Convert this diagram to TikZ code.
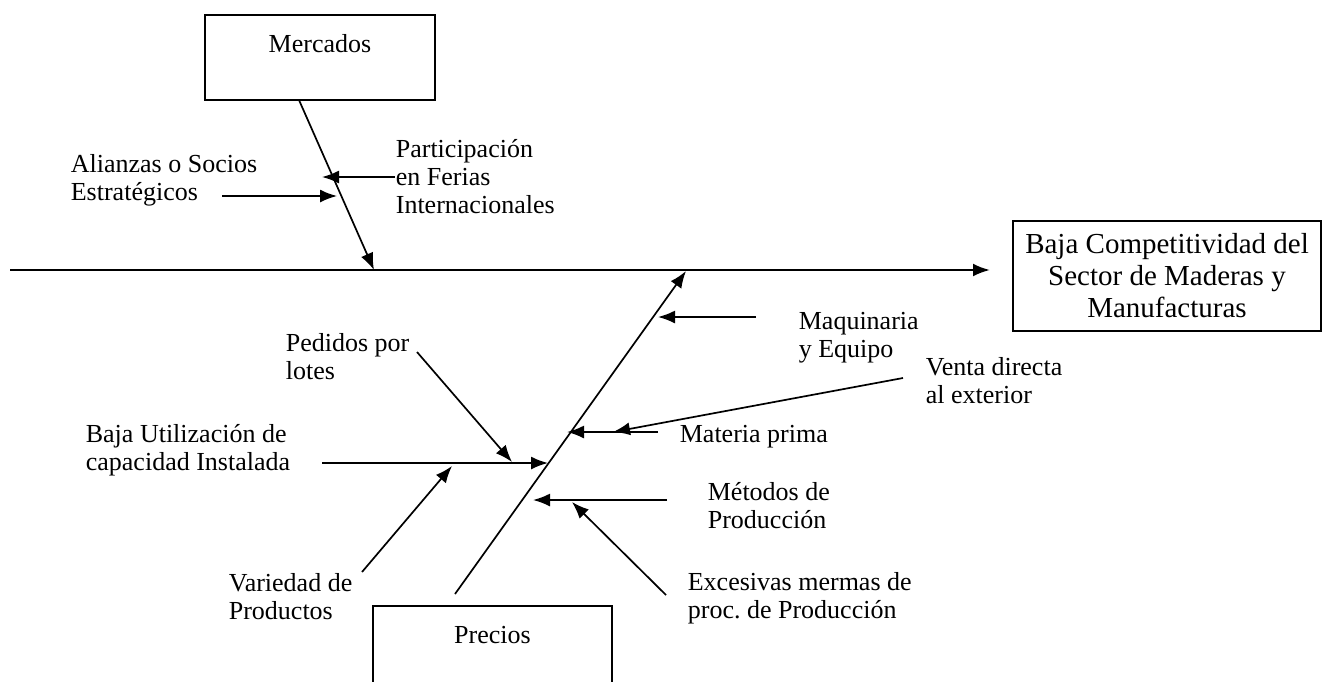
\documentclass[tikz,border=0pt]{standalone}
\usepackage{fontspec}
\setmainfont{Liberation Serif}
\usetikzlibrary{arrows.meta}
\frenchspacing

\begin{document}
\begin{tikzpicture}[x=0.5pt, y=-0.5pt, line width=0.85pt, >={Latex[length=8.5pt,width=6.5pt]}]
\tikzstyle{every node} = [font=\fontsize{13}{14}\selectfont, inner sep=0pt]
\tikzstyle{caja} = [draw, align=center, line width=0.9pt]
\tikzstyle{causa} = [anchor=west, align=left]
\useasboundingbox (0,0) rectangle (1327,681);
\clip (0,0) rectangle (1327,681);
% cajas
\node[caja, minimum width=115pt, minimum height=42.5pt] (merc) at (320,57.5) {Mercados\\~};
\node[caja, minimum width=119.5pt, minimum height=42.5pt] (prec) at (492.5,648.5) {Precios\\~};
\node[caja, minimum width=154pt, minimum height=55pt, font=\fontsize{14.5}{16}\selectfont] (efec) at (1167,276) {Baja Competitividad del\\Sector de Maderas y\\Manufacturas};
% espinas
\coordinate (e0) at (10,270);
\coordinate (e1) at (990,270);
\draw[->, line width=1.2pt] (e0) -- (e1);
\coordinate (m0) at (299,100);
\coordinate (m1) at (374,270);
\draw[->] (m0) -- (m1);
\coordinate (p0) at (455,594);
\coordinate (p1) at (686,271);
\draw[->] (p0) -- (p1);
% causas
\node[causa] (ali) at (70,180) {Alianzas o Socios\\Estratégicos};
\node[causa] (par) at (395,177) {Participación\\en Ferias\\Internacionales};
\node[causa] (maq) at (798,338) {Maquinaria\\y Equipo};
\node[causa] (ven) at (925,381) {Venta directa\\al exterior};
\node[causa] (mat) at (679,437) {Materia prima};
\node[causa] (met) at (707,506) {Métodos de\\Producción};
\node[causa] (exc) at (687,598) {Excesivas mermas de\\proc. de Producción};
\node[causa] (ped) at (285,357) {Pedidos por\\lotes};
\node[causa] (baj) at (85,450) {Baja Utilización de\\capacidad Instalada};
\node[causa] (var) at (228,597) {Variedad de\\Productos};
% flechas
\coordinate (a0) at (222,196);
\coordinate (a1) at (337,196);
\draw[->] (a0) -- (a1);
\coordinate (b0) at (395,177);
\coordinate (b1) at (322,177);
\draw[->] (b0) -- (b1);
\coordinate (c0) at (756,317);
\coordinate (c1) at (658,317);
\draw[->] (c0) -- (c1);
\coordinate (d0) at (658,432);
\coordinate (d1) at (567,432);
\draw[->] (d0) -- (d1);
\coordinate (v0) at (903,378);
\coordinate (v1) at (613,432);
\draw[->] (v0) -- (v1);
\coordinate (u0) at (322,463);
\coordinate (u1) at (548,463);
\draw[->] (u0) -- (u1);
\coordinate (l0) at (417,352);
\coordinate (l1) at (512,462);
\draw[->] (l0) -- (l1);
\coordinate (r0) at (362,572);
\coordinate (r1) at (452,466);
\draw[->] (r0) -- (r1);
\coordinate (t0) at (667,500);
\coordinate (t1) at (533,500);
\draw[->] (t0) -- (t1);
\coordinate (x0) at (666,595);
\coordinate (x1) at (572,502);
\draw[->] (x0) -- (x1);
\end{tikzpicture}
\end{document}
